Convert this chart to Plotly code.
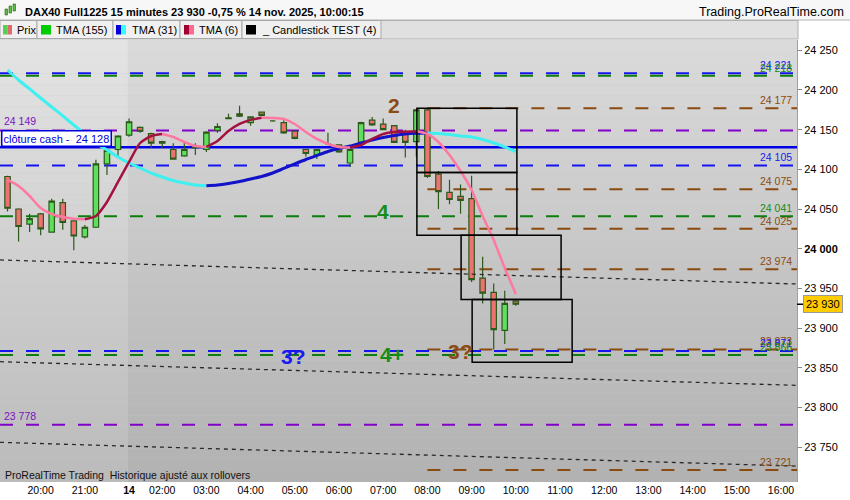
import plotly.graph_objects as go

# ---------------- data ----------------
bar_index = list(range(47))  # 15-min bars 19:15 (13 nov) .. 10:00 (14 nov)
opens = [24091, 24050, 24031, 24044, 24021, 24058, 24035, 24015, 24027, 24107,
         24125, 24143, 24153, 24145, 24133, 24125, 24117, 24128, 24125, 24149,
         24164, 24170, 24159, 24172, 24161, 24159, 24148, 24125, 24118, 24132,
         24131, 24108, 24134, 24162, 24157, 24155, 24144, 24135, 24175, 24094,
         24071, 24066, 24063, 23963, 23945, 23897, 23934]
highs = [24092, 24051, 24044, 24045, 24063, 24063, 24036, 24030, 24112, 24125,
         24143, 24164, 24154, 24146, 24136, 24133, 24135, 24133, 24148, 24158,
         24170, 24180, 24166, 24172, 24162, 24162, 24149, 24126, 24126, 24146,
         24131, 24126, 24160, 24166, 24164, 24155, 24150, 24176, 24176, 24098,
         24087, 24081, 24092, 23990, 23956, 23947, 23935]
lows = [24047, 24009, 24021, 24017, 24020, 24024, 23998, 24013, 24026, 24093,
        24116, 24141, 24146, 24127, 24127, 24112, 24116, 24118, 24122, 24146,
        24164, 24166, 24155, 24167, 24160, 24145, 24138, 24116, 24113, 24131,
        24121, 24103, 24133, 24155, 24150, 24134, 24115, 24116, 24089, 24050,
        24056, 24044, 23958, 23931, 23873, 23880, 23928]
closes = [24051, 24028, 24038, 24025, 24060, 24033, 24016, 24027, 24107, 24124,
          24142, 24160, 24148, 24133, 24135, 24113, 24125, 24127, 24147, 24154,
          24165, 24167, 24166, 24168, 24161, 24146, 24139, 24120, 24125, 24132,
          24122, 24125, 24159, 24156, 24150, 24134, 24134, 24175, 24091, 24072,
          24062, 24061, 23961, 23944, 23898, 23931, 23930]

tma6 = [24086.6, 24079.0, 24066.4, 24051.3, 24043.7, 24040.0, 24037.8, 24037.2, 24041.3, 24058.9,
        24084.1, 24109.3, 24133.2, 24142.0, 24144.6, 24140.8, 24134.5, 24129.4, 24128.2, 24135.7,
        24148.3, 24157.2, 24162.3, 24165.0, 24164.8, 24163.5, 24157.2, 24147.1, 24138.3, 24132.0,
        24128.2, 24127.6, 24130.7, 24138.3, 24144.6, 24147.1, 24147.5, 24147.9, 24144.6, 24134.5,
        24118.1, 24097.9, 24074.0, 24041.2, 24011.0, 23975.7, 23942.9]
tma31 = [24225.2, 24212.6, 24201.3, 24189.9, 24178.6, 24167.3, 24155.9, 24144.6, 24133.2, 24124.4,
         24115.6, 24108.0, 24101.7, 24095.4, 24090.4, 24086.0, 24082.8, 24080.3, 24079.4, 24080.3,
         24082.2, 24084.7, 24087.9, 24091.0, 24095.4, 24101.1, 24106.8, 24112.4, 24117.5, 24122.5,
         24126.3, 24129.4, 24133.2, 24137.0, 24140.2, 24142.7, 24144.6, 24145.5, 24145.8, 24145.2,
         24143.9, 24142.0, 24140.8, 24137.6, 24133.2, 24128.2, 24122.5]

# horizontal levels
level_values = [24221, 24218, 24177, 24149, 24128, 24105, 24075, 24041, 24025, 23974,
                23873, 23871, 23866, 23778, 23721]
level_labels = ["24 221", "24 218", "24 177", "24 149", "clôture cash -  24 128", "24 105",
                "24 075", "24 041", "24 025", "23 974", "23 873", "23 871", "23 866",
                "23 778", "23 721"]
level_kind = ["blue", "green", "brown", "purple", "cash", "blue", "brown", "green", "brown",
              "brown", "brown", "blue", "green", "purple", "brown"]

# candlestick test boxes
box_start = [37.05, 37.05, 41.05, 42.05]
box_end = [46.1, 46.1, 50.1, 51.1]
box_low = [24096, 24017, 23936, 23857]
box_high = [24177, 24096, 24017, 23936]

# dotted channel lines (value at left edge / right edge)
channel_left = [23985.8, 23857.6, 23756.0]
channel_right = [23955.5, 23827.8, 23726.0]

# wave labels
wave_text = ["2", "4", "3?", "4+", "3?"]
wave_x = [35.0, 34.0, 25.9, 34.8, 41.0]
wave_y = [24180, 24047, 23864, 23867, 23871]
wave_kind = ["brown", "green", "blue", "green", "brown"]

x_tick_vals = [3, 7, 11, 14, 18, 22, 26, 30, 34, 38, 42, 46, 50, 54, 58, 62, 66, 70]
x_tick_text = ["20:00", "21:00", "<b>14</b>", "02:00", "03:00", "04:00", "05:00", "06:00",
               "07:00", "08:00", "09:00", "10:00", "11:00", "12:00", "13:00", "14:00",
               "15:00", "16:00"]
y_tick_vals = [23750, 23800, 23850, 23900, 23950, 24000, 24050, 24100, 24150, 24200, 24250]
y_tick_text = ["23 750", "23 800", "23 850", "23 900", "23 950", "<b>24 000</b>", "24 050",
               "24 100", "24 150", "24 200", "24 250"]

last_price = 23930
day_start = 10.9
brown_start = 38

# ---------------- styling ----------------
COL = {"blue": "#1414f0", "green": "#0e7d0e", "brown": "#8a4a10", "purple": "#8000c8",
       "cash": "#0000e6"}
TXT = {"blue": "#1a1aee", "green": "#178c17", "brown": "#8b4b12", "purple": "#7a10c0"}
FONT = "Liberation Sans, Arial, sans-serif"

X0, X1 = -0.68, 71.45
Y0, Y1 = 23706, 24263
PLOT_L, PLOT_R, PLOT_T, PLOT_B = 0, 797, 40, 482


def px(xp):
    return (xp - PLOT_L) / (PLOT_R - PLOT_L)


def py(yp):
    return (PLOT_B - yp) / (PLOT_B - PLOT_T)


fig = go.Figure()
shapes = []
annotations = []

# background gradient (stripes)
N = 40
for i in range(N):
    t = i / (N - 1)
    g = int(round(0xda - (0xda - 0xb2) * t))
    gl = min(255, g + 9)
    ytop = 1 - i / N
    ybot = 1 - (i + 1) / N
    shapes.append(dict(type="rect", xref="x", yref="paper", x0=day_start, x1=X1, y0=ybot, y1=ytop,
                       fillcolor=f"rgb({g},{g},{g})", line=dict(width=0), layer="below"))
    shapes.append(dict(type="rect", xref="x", yref="paper", x0=X0, x1=day_start, y0=ybot, y1=ytop,
                       fillcolor=f"rgb({gl},{gl},{gl})", line=dict(width=0), layer="below"))

# level lines
for v, k in zip(level_values, level_kind):
    start = brown_start if k == "brown" else X0
    dash = "solid" if k == "cash" else "13px,13px"
    width = 2.5 if k == "cash" else 2
    shapes.append(dict(type="line", xref="x", yref="y", x0=start, x1=X1, y0=v, y1=v,
                       line=dict(color=COL[k], width=width, dash=dash), layer="below"))

# level labels
for v, lab, k in zip(level_values, level_labels, level_kind):
    if k == "cash":
        annotations.append(dict(x=px(0.5), xref="paper", y=v, yref="y", yshift=9, text=lab,
                                xanchor="left", yanchor="middle", showarrow=False,
                                width=106, align="left",
                                font=dict(family=FONT, size=11, color="#0000dd"),
                                bgcolor="white", bordercolor="#0000dd", borderwidth=1.5, borderpad=1))
    elif k == "purple":
        annotations.append(dict(x=px(2), xref="paper", y=v, yref="y", yshift=9, text=lab,
                                xanchor="left", yanchor="middle", showarrow=False,
                                font=dict(family=FONT, size=10.5, color=TXT[k])))
    else:
        annotations.append(dict(x=1, xref="paper", xshift=-3, y=v, yref="y", yshift=8, text=lab,
                                xanchor="right", yanchor="middle", showarrow=False,
                                font=dict(family=FONT, size=10.5, color=TXT[k])))

# channel dotted lines
for a, b in zip(channel_left, channel_right):
    fig.add_trace(go.Scatter(x=[X0, X1], y=[a, b], mode="lines",
                             line=dict(color="#2a2a2a", width=1.3, dash="4px,4px"),
                             hoverinfo="skip", showlegend=False))

# candles
fig.add_trace(go.Candlestick(
    x=bar_index, open=opens, high=highs, low=lows, close=closes,
    increasing=dict(fillcolor="#5ee05e", line=dict(color="#2b5a1a", width=1.2)),
    decreasing=dict(fillcolor="#ee7272", line=dict(color="#2b5a1a", width=1.2)),
    whiskerwidth=0, hoverinfo="skip", showlegend=False))


def add_colored_line(vals, up, down, width):
    i = 0
    n = len(vals)
    while i < n - 1:
        rising = vals[i + 1] >= vals[i]
        j = i
        while j < n - 1 and (vals[j + 1] >= vals[j]) == rising:
            j += 1
        fig.add_trace(go.Scatter(x=bar_index[i:j + 1], y=vals[i:j + 1], mode="lines",
                                 line=dict(color=up if rising else down, width=width,
                                           shape="spline", smoothing=0.6),
                                 hoverinfo="skip", showlegend=False))
        i = j


add_colored_line(tma31, "#1212c8", "#3ff0f0", 3)
add_colored_line(tma6, "#a3123f", "#ff78a0", 2.5)

# boxes
for s, e, lo, hi in zip(box_start, box_end, box_low, box_high):
    shapes.append(dict(type="rect", xref="x", yref="y", x0=s, x1=e, y0=lo, y1=hi,
                       line=dict(color="black", width=1.5), fillcolor="rgba(0,0,0,0)", layer="above"))

# wave labels
for t, x, y, k in zip(wave_text, wave_x, wave_y, wave_kind):
    annotations.append(dict(x=x, y=y, xref="x", yref="y", text=f"<b>{t}</b>", showarrow=False,
                            xanchor="center", yanchor="middle",
                            font=dict(family=FONT, size=21, color=TXT[k])))

# price tag on axis
annotations.append(dict(x=1, xref="paper", xshift=6, y=last_price, yref="y", text="23 930",
                        xanchor="left", yanchor="middle", showarrow=False,
                        font=dict(family=FONT, size=11, color="black"),
                        bgcolor="#ffcc00", bordercolor="#999999", borderwidth=1, borderpad=2))
shapes.append(dict(type="line", xref="paper", yref="y", x0=1, x1=px(803), y0=last_price, y1=last_price,
                   line=dict(color="black", width=1.5)))

# ---------------- header & legend row ----------------
shapes.append(dict(type="rect", xref="paper", yref="paper", x0=px(0), x1=px(850), y0=py(20), y1=py(0),
                   fillcolor="#f7f7f7", line=dict(width=0)))
shapes.append(dict(type="line", xref="paper", yref="paper", x0=px(0), x1=px(850), y0=py(20), y1=py(20),
                   line=dict(color="#b4b4b4", width=1)))
shapes.append(dict(type="rect", xref="paper", yref="paper", x0=px(0), x1=px(798), y0=py(39), y1=py(20.5),
                   fillcolor="#e0e0e0", line=dict(color="#b0b0b0", width=1)))
cells = [(0, 37), (37, 113), (113, 180), (180, 242), (242, 381)]
for a, b in cells:
    shapes.append(dict(type="rect", xref="paper", yref="paper", x0=px(a), x1=px(b), y0=py(38.5), y1=py(20.5),
                       fillcolor="#f0f0f0", line=dict(color="#a8a8a8", width=1)))
icons = [((3, 7.5), "#55d055"), ((7.5, 12), "#e06a6a"), ((41, 51), "#00cc00"),
         ((116, 121), "#0000dd"), ((121, 126), "#33ffff"), ((184, 189), "#a00030"),
         ((189, 194), "#ff6a90"), ((246, 256), "#000000")]
for (a, b), c in icons:
    shapes.append(dict(type="rect", xref="paper", yref="paper", x0=px(a), x1=px(b), y0=py(34.5), y1=py(25),
                       fillcolor=c, line=dict(width=0)))
legend_items = [(15, "Prix"), (54, "TMA (155)"), (129.5, "TMA (31)"), (197, "TMA (6)"),
                (259.5, "_ Candlestick TEST (4)")]
for x, t in legend_items:
    annotations.append(dict(x=px(x), y=py(30), xref="paper", yref="paper", text=t, showarrow=False,
                            xanchor="left", yanchor="middle",
                            font=dict(family=FONT, size=11, color="black")))

# header icon (small candles)
for a, b, y0_, y1_ in [(5, 7.5, 15, 9), (9, 11.5, 13, 6), (13, 15.5, 11, 4)]:
    shapes.append(dict(type="rect", xref="paper", yref="paper", x0=px(a), x1=px(b), y0=py(y0_), y1=py(y1_),
                       fillcolor="#55c040", line=dict(color="#2b5a1a", width=0.6)))
annotations.append(dict(x=px(23), y=py(12), xref="paper", yref="paper",
                        text="<b>DAX40 Full1225 15 minutes 23 930 -0,75 % 14 nov. 2025, 10:00:15</b>",
                        showarrow=False, xanchor="left", yanchor="middle",
                        font=dict(family=FONT, size=11, color="black")))
annotations.append(dict(x=px(846), y=py(12), xref="paper", yref="paper",
                        text="Trading.ProRealTime.com", showarrow=False,
                        xanchor="right", yanchor="middle",
                        font=dict(family=FONT, size=12.5, color="black")))
annotations.append(dict(x=px(3), y=py(475), xref="paper", yref="paper",
                        text="ProRealTime Trading\u00a0 Historique ajusté aux rollovers",
                        showarrow=False, xanchor="left", yanchor="middle",
                        font=dict(family=FONT, size=10.5, color="#111111")))

fig.update_layout(
    width=850, height=500,
    margin=dict(l=PLOT_L, r=850 - PLOT_R, t=PLOT_T, b=500 - PLOT_B),
    paper_bgcolor="white", plot_bgcolor="#c8c8c8",
    showlegend=False, hovermode=False,
    shapes=shapes, annotations=annotations,
    xaxis=dict(range=[X0, X1], showgrid=False, zeroline=False, rangeslider=dict(visible=False),
               tickmode="array", tickvals=x_tick_vals, ticktext=x_tick_text, ticks="",
               tickfont=dict(family=FONT, size=10.5, color="black"), fixedrange=True),
    yaxis=dict(range=[Y0, Y1], side="right", showgrid=False, zeroline=False,
               tickmode="array", tickvals=y_tick_vals, ticktext=y_tick_text,
               ticks="outside", ticklen=4, tickcolor="#888888",
               showline=True, linecolor="#a0a0a0", linewidth=1,
               tickfont=dict(family=FONT, size=11, color="black"), fixedrange=True),
)

fig.write_html("out.html", config={"displayModeBar": False},
               post_script="document.body.style.margin='0';document.body.style.padding='0';"
                           "document.documentElement.style.overflow='hidden';")
